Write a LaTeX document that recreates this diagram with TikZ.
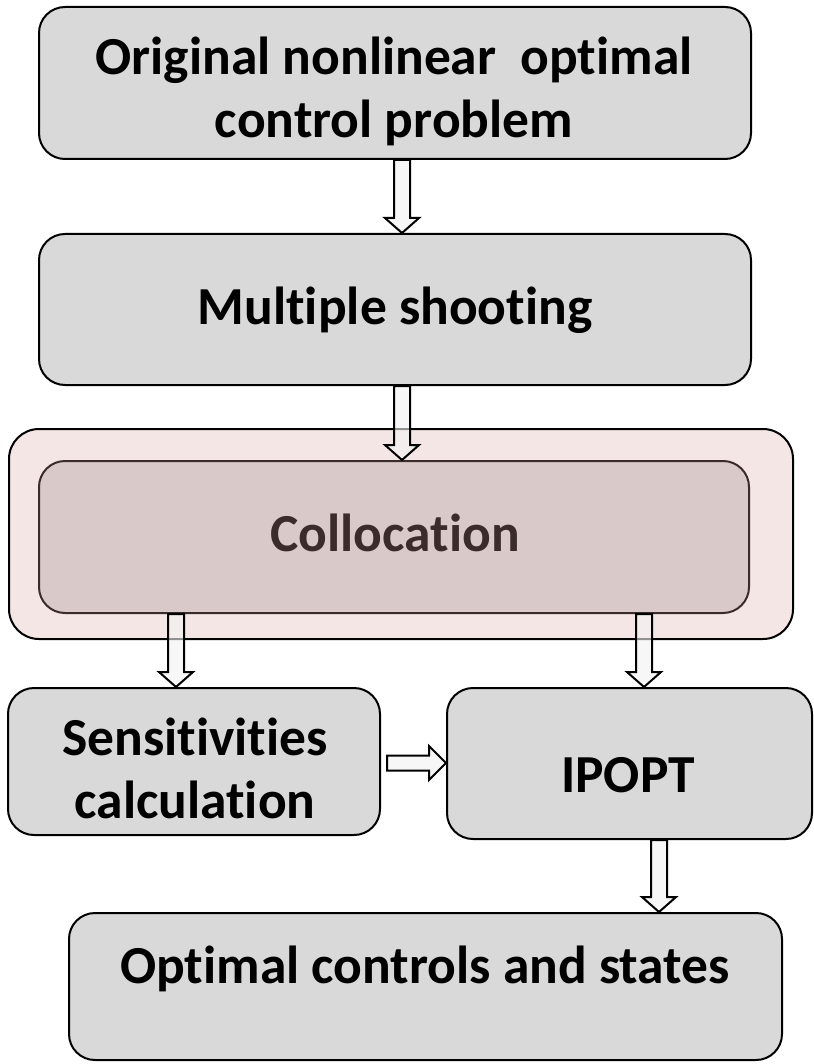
\documentclass[tikz,border=0pt]{standalone}
\usepackage{fontspec}
\setmainfont{Carlito}[Ligatures={NoCommon,NoRequired,NoContextual},Contextuals=NoAlternate]
\usetikzlibrary{calc}
\definecolor{boxgray}{HTML}{D9D9D9}
\definecolor{outerpink}{HTML}{F5E6E6}
\definecolor{innerpink}{HTML}{D9C9C9}
\definecolor{innerline}{HTML}{3B2C2C}
\definecolor{arrowfill}{HTML}{F2F2F2}
\tikzset{
  x=1pt, y=-1pt,
  box/.style={draw=black, line width=2pt, fill=boxgray, rounded corners=26pt, minimum width=#1, inner sep=0pt},
  outerbox/.style={draw=black, line width=2pt, fill=outerpink, rounded corners=30pt, inner sep=0pt},
  innerbox/.style={draw=innerline, line width=2pt, fill=innerpink, rounded corners=26pt, inner sep=0pt},
  lbl/.style={font=\fontsize{53.5}{63}\selectfont\bfseries, anchor=base, inner sep=0pt},
  blk/.style={draw=black, line width=2pt, fill=arrowfill, fill opacity=0.6, line join=miter},
}
\newcommand\blkdown[2]{%
  \draw[blk] ($(#1)+(-8,0)$) -- ($(#2)+(-8,-15)$) -- ($(#2)+(-17,-15)$) -- (#2)
    -- ($(#2)+(17,-15)$) -- ($(#2)+(8,-15)$) -- ($(#1)+(8,0)$) -- cycle;}
\newcommand\blkright[2]{%
  \draw[blk] ($(#1)+(0,-7.5)$) -- ($(#2)+(-17,-7.5)$) -- ($(#2)+(-17,-17)$) -- (#2)
    -- ($(#2)+(-17,17)$) -- ($(#2)+(-17,7.5)$) -- ($(#1)+(0,7.5)$) -- cycle;}
\begin{document}
\begin{tikzpicture}
\useasboundingbox (0,0) rectangle (813,1064);
% boxes
\node[box=712pt, minimum height=152pt] (b1) at (395,83) {};
\node[box=712pt, minimum height=151pt] (b2) at (395,309.5) {};
\node[outerbox, minimum width=784pt, minimum height=210pt] (outer) at (401,534) {};
\node[innerbox, minimum width=710pt, minimum height=152pt] (inner) at (394,537) {};
\node[box=372pt, minimum height=147pt] (sens) at (194,761.5) {};
\node[box=365pt, minimum height=151pt] (ipopt) at (629.5,763.5) {};
\node[box=713pt, minimum height=147pt] (final) at (425.5,986.5) {};
% texts
\node[lbl] (t1a) at (394,75) {Original nonlinear\ \ optimal};
\node[lbl] (t1b) at (394,138) {control problem};
\node[lbl] (t2) at (395,324) {Multiple shoot\kern0pt ing};
\node[lbl, text=innerline] (t3) at (395,551) {Collocat\kern0pt ion};
\node[lbl] (t4a) at (195,755) {Sensit\kern0pt ivit\kern0pt ies};
\node[lbl] (t4b) at (195,818) {calculat\kern0pt ion};
\node[lbl] (t5) at (628,792) {IPOPT};
\node[lbl] (t6) at (425,983) {Optimal controls and states};
% arrow x positions
\coordinate (xa) at (402,0);
\coordinate (xl) at (176,0);
\coordinate (xr) at (644,0);
\coordinate (xi) at (659,0);
\coordinate (ym) at (0,763);
% arrows
\blkdown{b1.south -| xa}{b2.north -| xa}
\blkdown{b2.south -| xa}{inner.north -| xa}
\blkdown{inner.south -| xl}{sens.north -| xl}
\blkdown{inner.south -| xr}{ipopt.north -| xr}
\blkright{$(sens.east |- ym)+(6,0)$}{ipopt.west |- ym}
\blkdown{ipopt.south -| xi}{final.north -| xi}
\end{tikzpicture}
\end{document}
